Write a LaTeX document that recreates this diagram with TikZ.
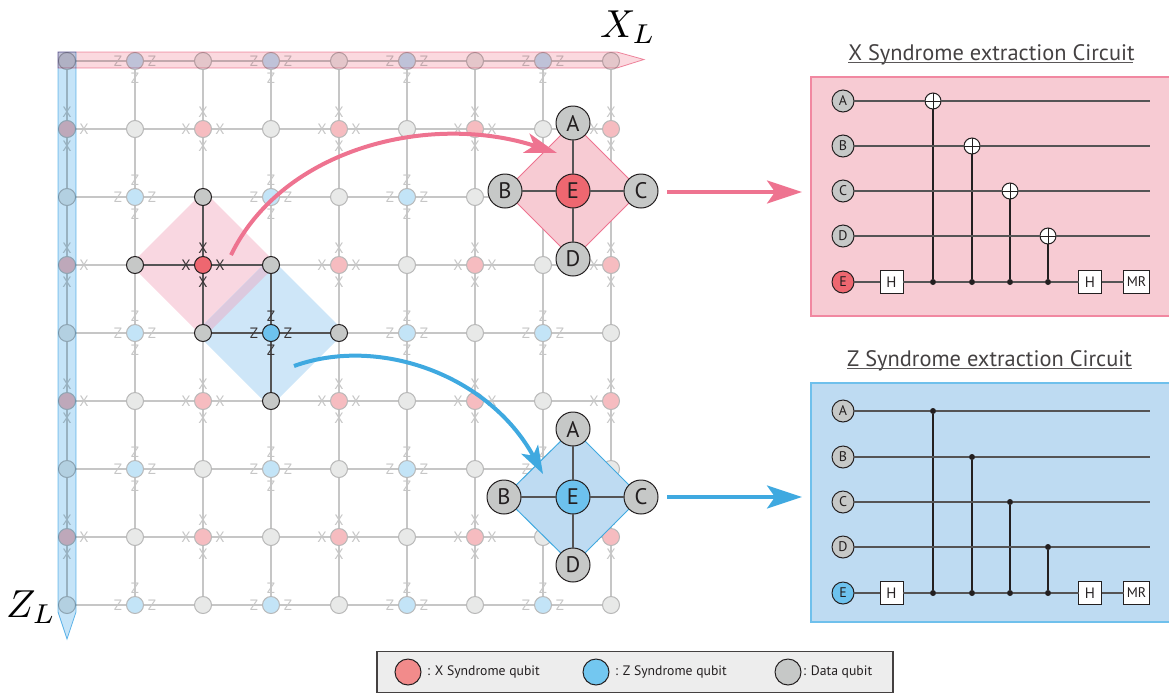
\documentclass[tikz,border=0pt]{standalone}
\usepackage{fontspec}
\setmainfont{PT Sans}
\usetikzlibrary{arrows.meta}
\definecolor{gridc}{HTML}{C6C6C6}
\definecolor{paleD}{HTML}{E8E9E8}
\definecolor{paleR}{HTML}{F6BCC0}
\definecolor{paleB}{HTML}{C3E4F7}
\definecolor{paleS}{HTML}{B8B8B8}
\definecolor{hotD}{HTML}{C6C8C7}
\definecolor{hotR}{HTML}{EE6770}
\definecolor{hotB}{HTML}{6DC2EE}
\definecolor{ink}{HTML}{231F20}
\definecolor{wirec}{HTML}{555455}
\definecolor{pinkA}{HTML}{EE7390}
\definecolor{blueA}{HTML}{3FA9E0}
\definecolor{pinkD}{HTML}{F9D7E1}
\definecolor{blueD}{HTML}{CEE6F8}
\definecolor{overD}{HTML}{DCC9DE}
\definecolor{pinkM}{HTML}{F7CBD3}
\definecolor{blueM}{HTML}{BEDBF2}
\definecolor{pinkB}{HTML}{FBD9DF}
\definecolor{blueB}{HTML}{C5E4F8}
\definecolor{pinkE}{HTML}{F090A8}
\definecolor{blueE}{HTML}{6FC0EC}
\pgfdeclarelayer{diamonds}
\pgfdeclarelayer{edges}
\pgfsetlayers{diamonds,edges,main}
\tikzset{
  every node/.style={inner sep=0pt,outer sep=0pt},
  qubit/.style={circle,minimum size=17pt,line width=1pt,draw=paleS},
  qdata/.style={qubit,fill=paleD},
  qred/.style={qubit,fill=paleR},
  qblue/.style={qubit,fill=paleB},
  hotdata/.style={fill=hotD,draw=ink},
  hotred/.style={fill=hotR,draw=ink},
  hotblue/.style={fill=hotB,draw=ink},
  q22/.style=hotdata,q13/.style=hotdata,q33/.style=hotdata,q24/.style=hotdata,q44/.style=hotdata,q35/.style=hotdata,
  q23/.style=hotred,q34/.style=hotblue,
  stab/.style={font=\fontsize{15}{15}\selectfont,text=gridc},
  hotlab/.style={text=ink!90},
  l23/.style=hotlab,l34/.style=hotlab,
  gridline/.style={draw=gridc,line width=1.3pt},
  hotline/.style={draw=wirec,line width=1.3pt},
  eh13/.style=hotline,eh23/.style=hotline,ev22/.style=hotline,ev23/.style=hotline,
  eh24/.style=hotline,eh34/.style=hotline,ev33/.style=hotline,ev34/.style=hotline,
  bigq/.style={circle,minimum size=34pt,line width=1pt,draw=ink,fill=hotD,text=ink,font=\fontsize{22.5}{23}\selectfont},
  spoke/.style={draw=wirec,line width=1.3pt},
  arrowP/.style={draw=pinkA,line width=3.6pt,-{Stealth[length=35pt,width=23pt,inset=8pt]}},
  arrowB/.style={draw=blueA,line width=3.6pt,-{Stealth[length=35pt,width=23pt,inset=8pt]}},
  curveP/.style={draw=pinkA,line width=4pt,-{Stealth[length=32pt,width=20pt,inset=8pt]}},
  curveB/.style={draw=blueA,line width=4pt,-{Stealth[length=28pt,width=19pt,inset=7pt]}},
  cq/.style={circle,minimum size=22pt,line width=1pt,draw=ink,fill=hotD,text=ink,font=\fontsize{14}{14}\selectfont},
  gate/.style={rectangle,line width=1pt,draw=ink,fill=white,text=ink,minimum height=23pt,font=\fontsize{15}{15}\selectfont},
  wire/.style={draw=wirec,line width=1.3pt},
  vwire/.style={draw=ink,line width=1.3pt},
  dot/.style={circle,fill=ink,minimum size=6pt},
  target/.style={circle,fill=white,draw=ink,line width=1pt,minimum size=16pt},
  title/.style={text=ink!85,font=\fontsize{22.4}{23}\selectfont,anchor=base},
  legq/.style={circle,minimum size=26pt,line width=1pt,draw=ink},
  legt/.style={anchor=west,text=ink,font=\fontsize{13.7}{14}\selectfont},
  logical/.style={scale=3.9},
}
\begin{document}
\begin{tikzpicture}[x=1pt,y=-1pt]
\useasboundingbox (0,0) rectangle (1169,694);
% stabiliser diamonds
\begin{pgfonlayer}{diamonds}
  \fill[pinkD] (204,191) -- (130.5,264.5) -- (203.5,337.5) -- (277,264) -- cycle;
  \fill[blueD] (270.5,257.5) -- (345,332) -- (270,407) -- (195.5,332.5) -- cycle;
  \fill[overD] (270.5,257.5) -- (277,264) -- (203.5,337.5) -- (197,331) -- cycle;
\end{pgfonlayer}
% lattice
\foreach \i in {0,...,8}{\foreach \j in {0,...,8}{
  \pgfmathtruncatemacro\px{67+68*\i}
  \pgfmathtruncatemacro\py{61+68*\j}
  \pgfmathtruncatemacro\ai{mod(\i,2)}
  \pgfmathtruncatemacro\bj{mod(\j,2)}
  \def\kind{qdata}\def\lab{}
  \ifnum\ai=1 \ifnum\bj=0 \def\kind{qblue}\def\lab{Z}\fi\fi
  \ifnum\ai=0 \ifnum\bj=1 \def\kind{qred}\def\lab{X}\fi\fi
  \node[\kind,q\i\j/.try] (q-\i-\j) at (\px,\py) {};
  \ifx\lab\empty\else
    \ifnum\i>0 \node[stab,l\i\j/.try] (lw-\i-\j) at (\px-17,\py) {\lab};\fi
    \ifnum\i<8 \node[stab,l\i\j/.try] (le-\i-\j) at (\px+17,\py) {\lab};\fi
    \ifnum\j>0 \node[stab,l\i\j/.try] (ln-\i-\j) at (\px,\py-17) {\lab};\fi
    \ifnum\j<8 \node[stab,l\i\j/.try] (ls-\i-\j) at (\px,\py+17) {\lab};\fi
  \fi
}}
\begin{pgfonlayer}{edges}
\foreach \i in {0,...,8}{\foreach \j in {0,...,8}{
  \pgfmathtruncatemacro\ni{\i+1}
  \pgfmathtruncatemacro\nj{\j+1}
  \ifnum\i<8 \draw[gridline,eh\i\j/.try] (q-\i-\j) -- (q-\ni-\j);\fi
  \ifnum\j<8 \draw[gridline,ev\i\j/.try] (q-\i-\j) -- (q-\i-\nj);\fi
}}
\end{pgfonlayer}
% logical operators
\begin{scope}[blend mode=multiply]
  \filldraw[fill=pinkB,draw=pinkE,line width=.8pt] (58,52) -- (617,52) -- (644,59.5) -- (617,68) -- (58,68) -- cycle;
  \filldraw[fill=blueB,draw=blueE,line width=.8pt] (58,52) -- (76,52) -- (76,612) -- (67,639) -- (58,612) -- cycle;
\end{scope}
\node[logical] (xl) at (628,27) {$X_L$};
\node[logical] (zl) at (31,607) {$Z_L$};
% enlarged X plaquette
\coordinate (xa0) at (573,123); \coordinate (xb0) at (505,191);
\coordinate (xc0) at (641,191); \coordinate (xd0) at (573,259);
\filldraw[fill=pinkM,draw=pinkA,line width=1pt] (xa0) -- (xc0) -- (xd0) -- (xb0) -- cycle;
\node[bigq] (xa) at (xa0) {A};
\node[bigq] (xb) at (xb0) {B};
\node[bigq] (xc) at (xc0) {C};
\node[bigq] (xd) at (xd0) {D};
\node[bigq,fill=hotR] (xe) at (573,191) {E};
\foreach \t in {xa,xb,xc,xd} \draw[spoke] (xe) -- (\t);
% enlarged Z plaquette
\coordinate (za0) at (573,429); \coordinate (zb0) at (504,497);
\coordinate (zc0) at (641,497); \coordinate (zd0) at (573,565);
\filldraw[fill=blueM,draw=blueA,line width=1pt] (za0) -- (zc0) -- (zd0) -- (zb0) -- cycle;
\node[bigq] (za) at (za0) {A};
\node[bigq] (zb) at (zb0) {B};
\node[bigq] (zc) at (zc0) {C};
\node[bigq] (zd) at (zd0) {D};
\node[bigq,fill=hotB] (ze) at (573,497) {E};
\foreach \t in {za,zb,zc,zd} \draw[spoke] (ze) -- (\t);
% arrows
\coordinate (pc0) at (231,255); \coordinate (pc1) at (557,153);
\coordinate (bc0) at (294,366); \coordinate (bc1) at (543,474);
\draw[curveP] (pc0) .. controls (283,148) and (430,112) .. (pc1);
\draw[curveB] (bc0) .. controls (380,335) and (490,376) .. (bc1);
\coordinate (ps0) at (667,192); \coordinate (ps1) at (802,192);
\coordinate (bs0) at (667,497); \coordinate (bs1) at (802,497);
\draw[arrowP] (ps0) -- (ps1);
\draw[arrowB] (bs0) -- (bs1);
% X circuit
\node[title] (tx) at (991.5,60) {X Syndrome extraction Circuit};
\draw[ink!75,line width=1pt] (tx.base west) ++(0,2) -- ++(285,0);
\filldraw[fill=pinkM,draw=pinkA!85,line width=1.2pt] (811,77) rectangle (1171,316);
\foreach \n/\y in {A/101,B/146,C/191,D/236}{
  \node[cq] (xq\n) at (843,\y) {\n};
  \coordinate (xr\n) at (1150,\y);
}
\node[cq,fill=hotR] (xqE) at (843,282) {E};
\node[gate,minimum width=23pt] (xh1) at (891.5,282) {H};
\node[gate,minimum width=23pt] (xh2) at (1090,282) {H};
\node[gate,minimum width=26pt,font=\fontsize{14}{14}\selectfont] (xm) at (1136.5,282) {MR};
\foreach \k/\n/\x/\y in {1/A/933/101,2/B/972/146,3/C/1010/191,4/D/1048/236}{
  \node[dot] (xc\k) at (\x,282) {};
  \node[target] (xt\k) at (\x,\y) {};
  \draw[wire] (xq\n) -- (xt\k);
  \draw[wire] (xt\k) -- (xr\n);
  \draw[vwire] (xc\k) -- (xt\k);
  \draw[ink,line width=1pt] (xt\k.north) -- (xt\k.south) (xt\k.west) -- (xt\k.east);
}
\draw[wire] (xqE) -- (xh1);
\draw[wire] (xh1) -- (xc1);
\draw[wire] (xc1) -- (xc2);
\draw[wire] (xc2) -- (xc3);
\draw[wire] (xc3) -- (xc4);
\draw[wire] (xc4) -- (xh2);
\draw[wire] (xh2) -- (xm);
% Z circuit
\node[title] (tz) at (989.5,366) {Z Syndrome extraction Circuit};
\draw[ink!75,line width=1pt] (tz.base west) ++(0,2) -- ++(285,0);
\filldraw[fill=blueM,draw=blueE,line width=1.2pt] (811,383) rectangle (1171,622);
\foreach \n/\y in {A/411,B/457,C/502,D/547}{
  \node[cq] (zq\n) at (843,\y) {\n};
  \coordinate (zr\n) at (1150,\y);
}
\node[cq,fill=hotB] (zqE) at (843,593) {E};
\node[gate,minimum width=23pt] (zh1) at (891.5,593) {H};
\node[gate,minimum width=23pt] (zh2) at (1090,593) {H};
\node[gate,minimum width=26pt,font=\fontsize{14}{14}\selectfont] (zm) at (1136.5,593) {MR};
\foreach \k/\n/\x/\y in {1/A/933/411,2/B/972/457,3/C/1010/502,4/D/1048/547}{
  \node[dot] (zc\k) at (\x,593) {};
  \node[dot] (zt\k) at (\x,\y) {};
  \draw[wire] (zq\n) -- (zt\k);
  \draw[wire] (zt\k) -- (zr\n);
  \draw[vwire] (zc\k) -- (zt\k);
}
\draw[wire] (zqE) -- (zh1);
\draw[wire] (zh1) -- (zc1);
\draw[wire] (zc1) -- (zc2);
\draw[wire] (zc2) -- (zc3);
\draw[wire] (zc3) -- (zc4);
\draw[wire] (zc4) -- (zh2);
\draw[wire] (zh2) -- (zm);
% legend
\node[draw=ink!85,fill=black!7,line width=1.5pt,minimum width=516pt,minimum height=41pt] (legend) at (635,672) {};
\node[legq,fill={rgb,255:red,242;green,139;blue,139}] (l1) at (408,672) {};
\node[legt] (l1t) at (427,672) {: X Syndrome qubit};
\node[legq,fill={rgb,255:red,115;green,199;blue,240}] (l2) at (596,672) {};
\node[legt] (l2t) at (615,672) {: Z Syndrome qubit};
\node[legq,fill=hotD] (l3) at (788,672) {};
\node[legt] (l3t) at (803,672) {: Data qubit};
\end{tikzpicture}
\end{document}
